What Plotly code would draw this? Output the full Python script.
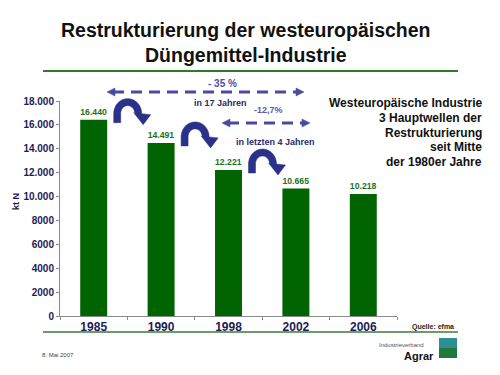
import numpy as np
import plotly.graph_objects as go

# ---- data ----
years = ["1985", "1990", "1998", "2002", "2006"]
values = [16440, 14491, 12221, 10665, 10218]
value_labels = ["16.440", "14.491", "12.221", "10.665", "10.218"]
ytick_vals = [0, 2000, 4000, 6000, 8000, 10000, 12000, 14000, 16000, 18000]
ytick_text = ["0", "2000", "4000", "6000", "8000", "10.000", "12.000", "14.000", "16.000", "18.000"]

OFF = 8  # page body margin of the browser
W, H = 500, 375
L, R, T, B = 60, 103, 101, 59
PW, PH = W - L - R, H - T - B
YMAX = 18000
FONT = "Liberation Sans, Arial, sans-serif"
NAVY = "#1c1c55"
ARROW = "#4a4a9e"
CURVE = "#2a3188"


def px_x(cat_pos):
    return L + (cat_pos + 0.5) / len(years) * PW


def px_y(v):
    return T + PH - v / YMAX * PH


def to_paper(px, py):
    return (px - L) / PW, (T + PH - py) / PH


fig = go.Figure()
fig.add_trace(go.Bar(
    x=years, y=values, width=0.4, marker=dict(color="#006400", line=dict(width=0)),
    text=[f"<b>{s}</b>" for s in value_labels], textposition="outside", cliponaxis=False,
    textfont=dict(family=FONT, size=10, color="#1f6f1f"),
    hoverinfo="skip",
))

shapes = []
annotations = []


def path_from(points, fill, line_color=None):
    parts = []
    for i, (px, py) in enumerate(points):
        xp, yp = to_paper(px, py)
        parts.append(("M" if i == 0 else "L") + f"{xp:.5f},{yp:.5f}")
    return dict(type="path", path=" ".join(parts) + " Z", xref="paper", yref="paper",
                fillcolor=fill, line=dict(color=line_color or fill, width=0.5), layer="above")


# curved arrows between consecutive bars (first three transitions)
for i in range(3):
    cx = px_x(i) + 34
    cy = px_y(values[i]) - 6
    rx, ry, t, leg = 10.5, 11.5, 7, 9
    th = np.radians(np.linspace(180, 0, 40))
    outer = [(cx + (rx + t / 2) * np.cos(a), cy - (ry + t / 2) * np.sin(a)) for a in th]
    inner = [(cx + (rx - t / 2) * np.cos(a), cy - (ry - t / 2) * np.sin(a)) for a in th][::-1]
    hc = cx + rx + 4
    head = [(hc + 8.5, cy + 1), (hc + 1, cy + 11), (hc - 8.5, cy - 1)]
    pts = [(cx - rx - t / 2, cy + leg)] + outer + head + inner + [(cx - rx + t / 2, cy + leg)]
    shapes.append(path_from(pts, CURVE))


def dashed_arrow(xa, xb, y):
    p0 = to_paper(xa + 6, y)
    p1 = to_paper(xb - 6, y)
    shapes.append(dict(type="line", xref="paper", yref="paper", x0=p0[0], y0=p0[1], x1=p1[0], y1=p1[1],
                       line=dict(color=ARROW, width=3, dash="11px,7px"), layer="above"))
    shapes.append(path_from([(xa, y), (xa + 8, y - 4), (xa + 8, y + 4)], ARROW))
    shapes.append(path_from([(xb, y), (xb - 8, y - 4), (xb - 8, y + 4)], ARROW))


dashed_arrow(107, 304, 92)
dashed_arrow(222, 310, 123)


def text(px, py, s, size, color, bold=True, xanchor="center", family=FONT, angle=0):
    xp, yp = to_paper(px, py)
    annotations.append(dict(x=xp, y=yp, xref="paper", yref="paper", text=f"<b>{s}</b>" if bold else s,
                            showarrow=False, xanchor=xanchor, yanchor="middle", textangle=angle,
                            font=dict(family=family, size=size, color=color)))


text(222, 83, "- 35 %", 10, "#5050a6")
text(220, 103, "in 17 Jahren", 9, "#2a2a68")
text(268, 110, "-12,7%", 9, "#5a5aa8")
text(275, 142, "in letzten 4 Jahren", 9, "#2a2a68")

right_lines = ["Westeuropäische Industrie", "3 Hauptwellen der", "Restrukturierung", "seit Mitte",
               "der 1980er Jahre"]
for k, s in enumerate(right_lines):
    text(484, 103 + k * 14.8, s, 12, "#111111", xanchor="right")

# title
text(246, 30, "Restrukturierung der westeuropäischen", 19.5, "#111111")
text(246, 55, "Düngemittel-Industrie", 19.5, "#111111")

# kt N
text(16, 201, "kt N", 9, NAVY, angle=-90)

text(433, 327, "Quelle: efma", 7, "#222222")
text(40, 355, "8. Mai 2007", 6, "#444444", bold=False, xanchor="left")
text(426, 345, "Industrieverband", 6, "#555555", bold=False, xanchor="right")
text(436, 356, "Agrar", 11, "#111111", xanchor="right")

# horizontal rules
for (yy, col, wd) in [(71, "#2e7a2e", 2), (332, "#6f9a6f", 2)]:
    a = to_paper(43, yy)
    b = to_paper(458, yy)
    shapes.append(dict(type="line", xref="paper", yref="paper", x0=a[0], y0=a[1], x1=b[0], y1=b[1],
                       line=dict(color=col, width=wd)))

# logo
a = to_paper(439, 338)
b = to_paper(457, 348)
c = to_paper(457, 358)
shapes.append(dict(type="rect", xref="paper", yref="paper", x0=a[0], y0=a[1], x1=b[0], y1=b[1],
                   fillcolor="#2f8f95", line=dict(width=0)))
shapes.append(dict(type="rect", xref="paper", yref="paper", x0=a[0], y0=b[1], x1=c[0], y1=c[1],
                   fillcolor="#1e7a3a", line=dict(width=0)))

fig.update_layout(
    width=W - OFF, height=H - OFF, margin=dict(l=L - OFF, r=R, t=T - OFF, b=B),
    paper_bgcolor="white", plot_bgcolor="white", showlegend=False,
    shapes=shapes, annotations=annotations,
    xaxis=dict(type="category", showgrid=False, showline=True, linecolor="#8a8a8a", linewidth=1,
               ticks="outside", tickson="boundaries", ticklen=3, tickcolor="#8a8a8a",
               tickfont=dict(family=FONT, size=12, color=NAVY), tickprefix="<b>", ticksuffix="</b>",
               range=[-0.5, 4.5], fixedrange=True),
    yaxis=dict(range=[0, YMAX], showgrid=False, showline=True, linecolor="#8a8a8a", linewidth=1,
               ticks="outside", ticklen=3, tickcolor="#8a8a8a", tickvals=ytick_vals,
               ticktext=[f"<b>{t}</b>" for t in ytick_text], zeroline=False,
               tickfont=dict(family=FONT, size=10, color=NAVY), fixedrange=True),
)

fig.write_html("out.html", config={"displayModeBar": False})
